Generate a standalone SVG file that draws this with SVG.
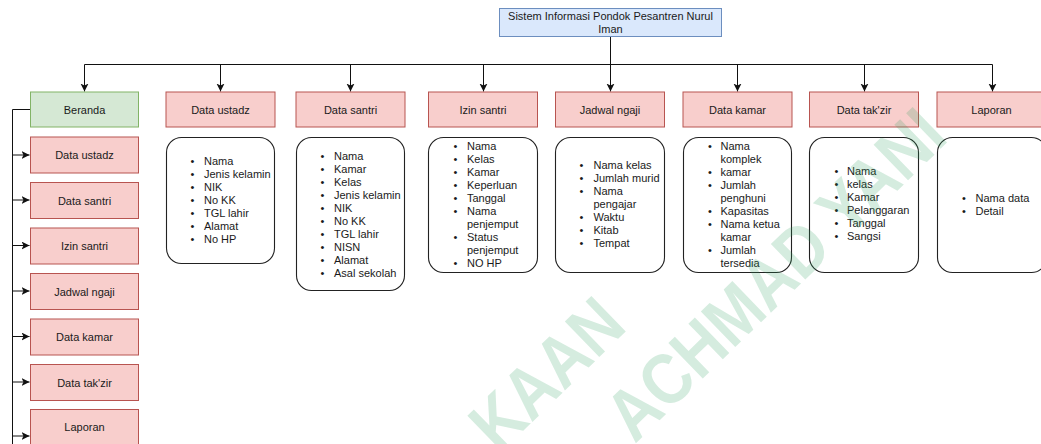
<svg xmlns="http://www.w3.org/2000/svg" width="1041" height="444" viewBox="0 0 1041 444">
<style>
.lbl{font-family:"Liberation Sans",Arial,sans-serif;font-size:11px;fill:#1a1a1a;text-anchor:middle}
.li{font-family:"Liberation Sans",Arial,sans-serif;font-size:11px;fill:#1a1a1a}
.bul{font-family:"Liberation Sans",Arial,sans-serif;font-size:11px;fill:#1a1a1a;text-anchor:middle}
.pink{fill:#f8cecc;stroke:#b85450;stroke-width:1}
.green{fill:#d5e8d4;stroke:#82b366;stroke-width:1}
.blue{fill:#dae8fc;stroke:#6c8ebf;stroke-width:1}
.card{fill:#ffffff;stroke:#222;stroke-width:1.1}
.conn{fill:none;stroke:#111;stroke-width:1}
.wm{font-family:"Liberation Sans",Arial,sans-serif;font-weight:bold;font-size:72px;fill:#2e9f5e;fill-opacity:0.2}
</style>
<defs>
<marker id="arr" markerUnits="userSpaceOnUse" markerWidth="9" markerHeight="9" refX="8" refY="4" orient="auto">
<path d="M0,0 L8,4 L0,8 L2,4 z" fill="#111"/>
</marker>
</defs>
<rect width="1041" height="444" fill="#ffffff"/>
<g id="connectors">
<path class="conn" d="M610.5,37 V64.5"/>
<path class="conn" d="M84.5,64.5 H992.5"/>
<path class="conn" marker-end="url(#arr)" d="M84.5,64.5 V91.5"/>
<path class="conn" marker-end="url(#arr)" d="M220.5,64.5 V91.5"/>
<path class="conn" marker-end="url(#arr)" d="M350.5,64.5 V91.5"/>
<path class="conn" marker-end="url(#arr)" d="M483.5,64.5 V91.5"/>
<path class="conn" marker-end="url(#arr)" d="M610.5,64.5 V91.5"/>
<path class="conn" marker-end="url(#arr)" d="M737.5,64.5 V91.5"/>
<path class="conn" marker-end="url(#arr)" d="M864.5,64.5 V91.5"/>
<path class="conn" marker-end="url(#arr)" d="M992.5,64.5 V91.5"/>
<path class="conn" d="M30,109.5 H12.5 V444"/>
<path class="conn" marker-end="url(#arr)" d="M12.5,155 H29.5"/>
<path class="conn" marker-end="url(#arr)" d="M12.5,200 H29.5"/>
<path class="conn" marker-end="url(#arr)" d="M12.5,245.5 H29.5"/>
<path class="conn" marker-end="url(#arr)" d="M12.5,291 H29.5"/>
<path class="conn" marker-end="url(#arr)" d="M12.5,336.5 H29.5"/>
<path class="conn" marker-end="url(#arr)" d="M12.5,382 H29.5"/>
<path class="conn" marker-end="url(#arr)" d="M12.5,436 H29.5"/>
</g>
<g id="title">
<rect class="blue" x="499.5" y="8.5" width="222" height="28"/>
<text class="lbl" x="610.5" y="20">Sistem Informasi Pondok Pesantren Nurul</text>
<text class="lbl" x="610.5" y="33">Iman</text>
</g>
<g id="top-beranda"><rect class="green" x="30.5" y="92" width="108" height="35"/><text class="lbl" x="84.5" y="113.5">Beranda</text></g>
<g id="top-ustadz"><rect class="pink" x="166" y="92" width="109" height="35"/><text class="lbl" x="220.5" y="113.5">Data ustadz</text></g>
<g id="top-santri"><rect class="pink" x="296" y="92" width="109" height="35"/><text class="lbl" x="350.5" y="113.5">Data santri</text></g>
<g id="top-izin"><rect class="pink" x="428.5" y="92" width="109" height="35"/><text class="lbl" x="483" y="113.5">Izin santri</text></g>
<g id="top-jadwal"><rect class="pink" x="555.5" y="92" width="109" height="35"/><text class="lbl" x="610" y="113.5">Jadwal ngaji</text></g>
<g id="top-kamar"><rect class="pink" x="683" y="92" width="109" height="35"/><text class="lbl" x="737.5" y="113.5">Data kamar</text></g>
<g id="top-takzir"><rect class="pink" x="809.5" y="92" width="109" height="35"/><text class="lbl" x="864" y="113.5">Data tak'zir</text></g>
<g id="top-laporan"><rect class="pink" x="937" y="92" width="109" height="35"/><text class="lbl" x="991.5" y="113.5">Laporan</text></g>
<g id="left-ustadz"><rect class="pink" x="30.5" y="137" width="108" height="36"/><text class="lbl" x="84.5" y="159">Data ustadz</text></g>
<g id="left-santri"><rect class="pink" x="30.5" y="182.5" width="108" height="36"/><text class="lbl" x="84.5" y="204.5">Data santri</text></g>
<g id="left-izin"><rect class="pink" x="30.5" y="228" width="108" height="36"/><text class="lbl" x="84.5" y="250">Izin santri</text></g>
<g id="left-jadwal"><rect class="pink" x="30.5" y="273.5" width="108" height="36"/><text class="lbl" x="84.5" y="295.5">Jadwal ngaji</text></g>
<g id="left-kamar"><rect class="pink" x="30.5" y="319" width="108" height="36"/><text class="lbl" x="84.5" y="341">Data kamar</text></g>
<g id="left-takzir"><rect class="pink" x="30.5" y="364.5" width="108" height="36"/><text class="lbl" x="84.5" y="386.5">Data tak'zir</text></g>
<g id="left-laporan"><rect class="pink" x="30.5" y="409.5" width="108" height="36"/><text class="lbl" x="84.5" y="431">Laporan</text></g>
<g id="list-ustadz">
<rect class="card" x="166.5" y="137.5" width="108" height="126" rx="15"/>
<text class="bul"><tspan x="192.5" y="165">•</tspan><tspan x="192.5" y="178">•</tspan><tspan x="192.5" y="191">•</tspan><tspan x="192.5" y="204">•</tspan><tspan x="192.5" y="217">•</tspan><tspan x="192.5" y="230">•</tspan><tspan x="192.5" y="243">•</tspan></text>
<text class="li"><tspan x="204" y="165">Nama</tspan><tspan x="204" y="178">Jenis kelamin</tspan><tspan x="204" y="191">NIK</tspan><tspan x="204" y="204">No KK</tspan><tspan x="204" y="217">TGL lahir</tspan><tspan x="204" y="230">Alamat</tspan><tspan x="204" y="243">No HP</tspan></text>
</g>
<g id="list-santri">
<rect class="card" x="296.5" y="137.5" width="108" height="153" rx="15"/>
<text class="bul"><tspan x="322.5" y="160">•</tspan><tspan x="322.5" y="173">•</tspan><tspan x="322.5" y="186">•</tspan><tspan x="322.5" y="199">•</tspan><tspan x="322.5" y="212">•</tspan><tspan x="322.5" y="225">•</tspan><tspan x="322.5" y="238">•</tspan><tspan x="322.5" y="251">•</tspan><tspan x="322.5" y="264">•</tspan><tspan x="322.5" y="277">•</tspan></text>
<text class="li"><tspan x="334" y="160">Nama</tspan><tspan x="334" y="173">Kamar</tspan><tspan x="334" y="186">Kelas</tspan><tspan x="334" y="199">Jenis kelamin</tspan><tspan x="334" y="212">NIK</tspan><tspan x="334" y="225">No KK</tspan><tspan x="334" y="238">TGL lahir</tspan><tspan x="334" y="251">NISN</tspan><tspan x="334" y="264">Alamat</tspan><tspan x="334" y="277">Asal sekolah</tspan></text>
</g>
<g id="list-izin">
<rect class="card" x="428.5" y="137.5" width="109" height="135" rx="15"/>
<text class="bul"><tspan x="455.5" y="150">•</tspan><tspan x="455.5" y="163">•</tspan><tspan x="455.5" y="176">•</tspan><tspan x="455.5" y="189">•</tspan><tspan x="455.5" y="202">•</tspan><tspan x="455.5" y="215">•</tspan><tspan x="455.5" y="241">•</tspan><tspan x="455.5" y="267">•</tspan></text>
<text class="li"><tspan x="467" y="150">Nama</tspan><tspan x="467" y="163">Kelas</tspan><tspan x="467" y="176">Kamar</tspan><tspan x="467" y="189">Keperluan</tspan><tspan x="467" y="202">Tanggal</tspan><tspan x="467" y="215">Nama</tspan><tspan x="467" y="228">penjemput</tspan><tspan x="467" y="241">Status</tspan><tspan x="467" y="254">penjemput</tspan><tspan x="467" y="267">NO HP</tspan></text>
</g>
<g id="list-jadwal">
<rect class="card" x="555.5" y="137.5" width="109" height="135" rx="15"/>
<text class="bul"><tspan x="581.5" y="169">•</tspan><tspan x="581.5" y="182">•</tspan><tspan x="581.5" y="195">•</tspan><tspan x="581.5" y="221">•</tspan><tspan x="581.5" y="234">•</tspan><tspan x="581.5" y="247">•</tspan></text>
<text class="li"><tspan x="593.5" y="169">Nama kelas</tspan><tspan x="593.5" y="182">Jumlah murid</tspan><tspan x="593.5" y="195">Nama</tspan><tspan x="593.5" y="208">pengajar</tspan><tspan x="593.5" y="221">Waktu</tspan><tspan x="593.5" y="234">Kitab</tspan><tspan x="593.5" y="247">Tempat</tspan></text>
</g>
<g id="list-kamar">
<rect class="card" x="683.5" y="137.5" width="108" height="135" rx="15"/>
<text class="bul"><tspan x="710" y="150">•</tspan><tspan x="710" y="176">•</tspan><tspan x="710" y="189">•</tspan><tspan x="710" y="215">•</tspan><tspan x="710" y="228">•</tspan><tspan x="710" y="254">•</tspan></text>
<text class="li"><tspan x="720.5" y="150">Nama</tspan><tspan x="720.5" y="163">komplek</tspan><tspan x="720.5" y="176">kamar</tspan><tspan x="720.5" y="189">Jumlah</tspan><tspan x="720.5" y="202">penghuni</tspan><tspan x="720.5" y="215">Kapasitas</tspan><tspan x="720.5" y="228">Nama ketua</tspan><tspan x="720.5" y="241">kamar</tspan><tspan x="720.5" y="254">Jumlah</tspan><tspan x="720.5" y="267">tersedia</tspan></text>
</g>
<g id="list-takzir">
<rect class="card" x="809.5" y="137.5" width="109" height="135" rx="15"/>
<text class="bul"><tspan x="836.5" y="175">•</tspan><tspan x="836.5" y="188">•</tspan><tspan x="836.5" y="201">•</tspan><tspan x="836.5" y="214">•</tspan><tspan x="836.5" y="227">•</tspan><tspan x="836.5" y="240">•</tspan></text>
<text class="li"><tspan x="847" y="175">Nama</tspan><tspan x="847" y="188">kelas</tspan><tspan x="847" y="201">Kamar</tspan><tspan x="847" y="214">Pelanggaran</tspan><tspan x="847" y="227">Tanggal</tspan><tspan x="847" y="240">Sangsi</tspan></text>
</g>
<g id="list-laporan">
<rect class="card" x="937.5" y="137.5" width="109" height="135" rx="15"/>
<text class="bul"><tspan x="964" y="201.5">•</tspan><tspan x="964" y="214.5">•</tspan></text>
<text class="li"><tspan x="975.5" y="201.5">Nama data</tspan><tspan x="975.5" y="214.5">Detail</tspan></text>
</g>
<g id="watermark">
<text class="wm" transform="translate(634.7,444.3) rotate(-44) scale(0.87,1)">ACHMAD YANI</text>
<text class="wm" transform="translate(498.7,454.3) rotate(-44) scale(0.87,1)">KAAN</text>
</g>
</svg>
